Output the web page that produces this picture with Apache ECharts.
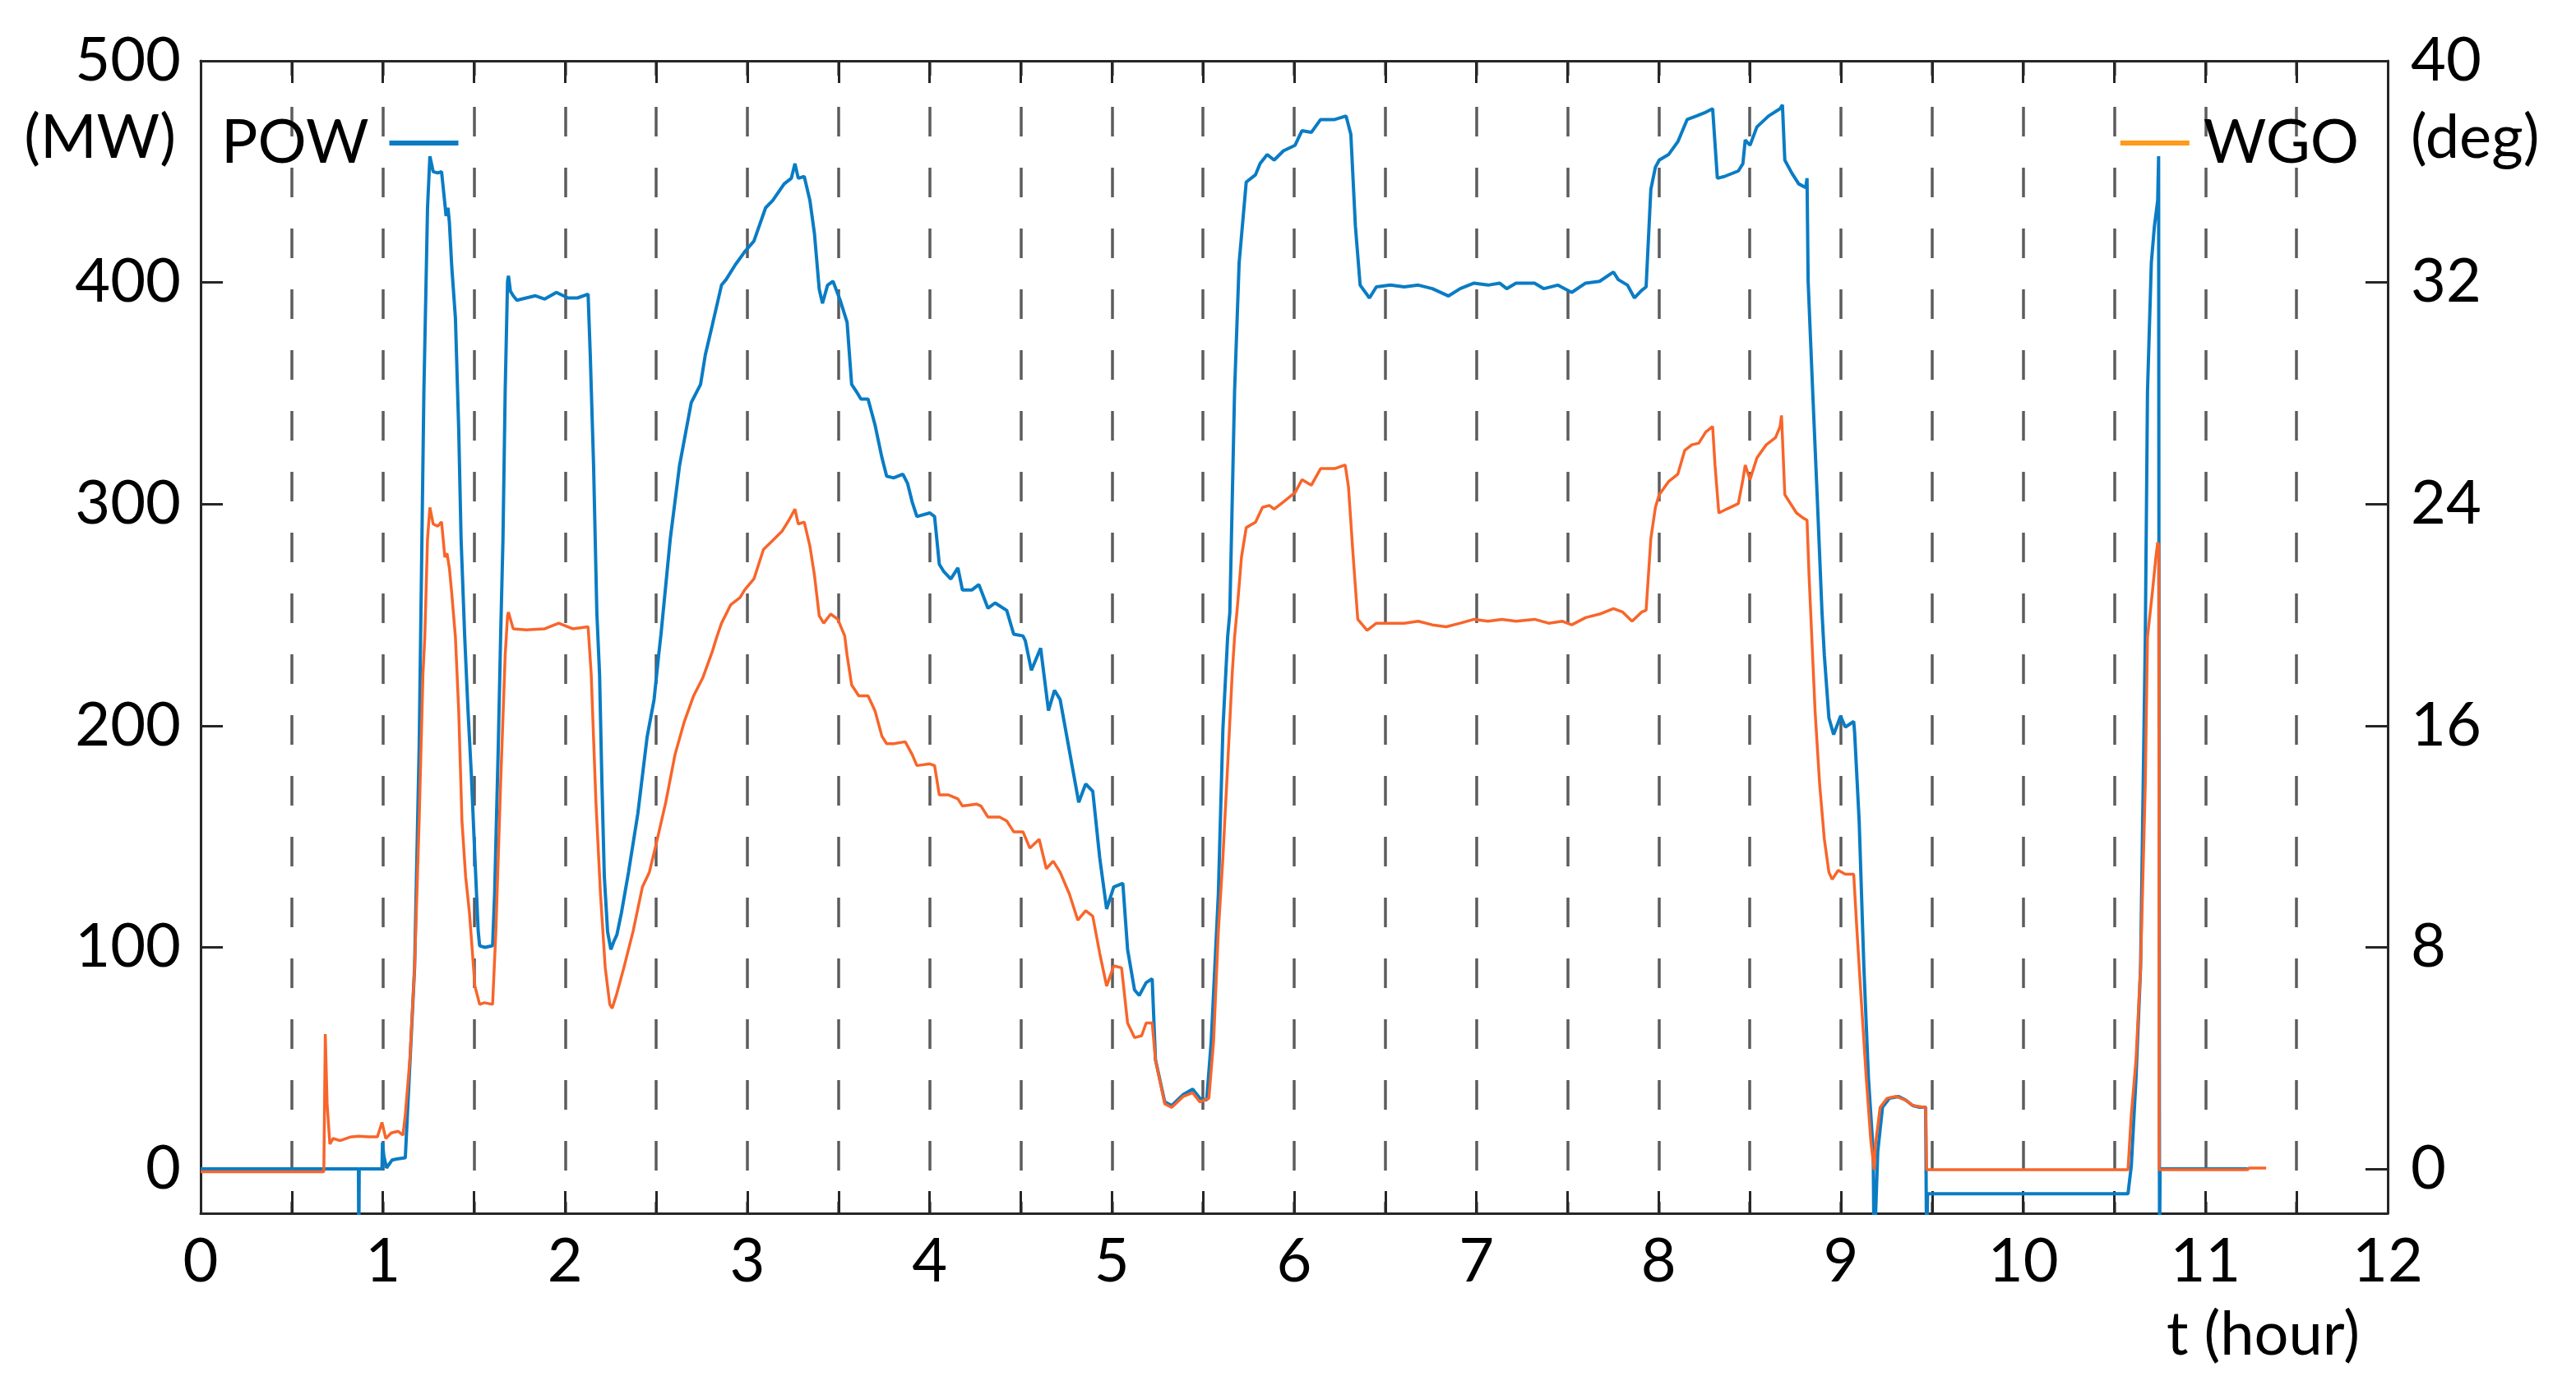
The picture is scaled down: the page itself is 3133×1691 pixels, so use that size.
<!DOCTYPE html>
<html>
<head>
<meta charset="utf-8">
<script src="https://cdn.jsdelivr.net/npm/echarts@6/dist/echarts.min.js"></script>
<style>
	html, body { margin: 0; padding: 0; background: #fff; }
	#chart { width: 3133px; height: 1691px; }
</style>
</head>
<body>
<div id="chart"></div>
<script>
	// POW (MW, left axis)
	const powHours = [
		0, 0.866, 0.868, 0.870, 0.995, 0.998, 1.005, 1.02, 1.05, 1.075, 1.123, 1.174, 1.199, 1.225, 1.245, 1.258,
		1.276, 1.301, 1.322, 1.332, 1.347, 1.357, 1.365, 1.378, 1.398, 1.416, 1.429, 1.449, 1.467, 1.485, 1.505,
		1.523, 1.531, 1.56, 1.602, 1.613, 1.633, 1.646, 1.659, 1.671, 1.684, 1.689, 1.70, 1.715, 1.735, 1.786,
		1.837, 1.888, 1.952, 2.016, 2.067, 2.126, 2.138, 2.156, 2.174, 2.189, 2.202, 2.215, 2.233, 2.251, 2.266,
		2.284, 2.309, 2.348, 2.399, 2.45, 2.488, 2.513, 2.526, 2.577, 2.628, 2.692, 2.743, 2.769, 2.807, 2.858,
		2.883, 2.934, 2.985, 3.036, 3.10, 3.139, 3.202, 3.241, 3.261, 3.279, 3.312, 3.343, 3.368, 3.394, 3.412,
		3.44, 3.47, 3.509, 3.547, 3.572, 3.598, 3.623, 3.662, 3.70, 3.738, 3.764, 3.802, 3.853, 3.879, 3.904,
		3.93, 4.001, 4.027, 4.053, 4.078, 4.116, 4.155, 4.18, 4.231, 4.27, 4.32, 4.359, 4.423, 4.461, 4.512,
		4.525, 4.558, 4.609, 4.652, 4.685, 4.716, 4.767, 4.818, 4.856, 4.895, 4.933, 4.971, 5.01, 5.06, 5.086,
		5.124, 5.15, 5.188, 5.221, 5.239, 5.29, 5.328, 5.392, 5.443, 5.482, 5.52, 5.545, 5.584, 5.609, 5.635,
		5.647, 5.673, 5.698, 5.737, 5.788, 5.813, 5.852, 5.89, 5.941, 6.005, 6.043, 6.094, 6.145, 6.222, 6.285,
		6.311, 6.336, 6.362, 6.413, 6.451, 6.528, 6.604, 6.681, 6.758, 6.847, 6.911, 6.987, 7.064, 7.127, 7.166,
		7.217, 7.319, 7.37, 7.446, 7.523, 7.599, 7.676, 7.752, 7.778, 7.829, 7.867, 7.906, 7.931, 7.957, 7.982,
		8.003, 8.054, 8.105, 8.156, 8.207, 8.258, 8.296, 8.322, 8.36, 8.437, 8.462, 8.475, 8.501, 8.539, 8.603,
		8.666, 8.679, 8.692, 8.73, 8.768, 8.807, 8.814, 8.82, 8.845, 8.871, 8.896, 8.909, 8.934, 8.96, 8.998,
		9.024, 9.07, 9.075, 9.1, 9.126, 9.151, 9.177, 9.182, 9.19, 9.202, 9.228, 9.266, 9.317, 9.355, 9.394,
		9.432, 9.465, 9.47, 9.475, 10.575, 10.593, 10.619, 10.644, 10.67, 10.682, 10.703, 10.72, 10.738, 10.743,
		10.748, 10.751, 11.231
	]
	const powMW = [
		0, 0, -40, 0, 0, 12, 6, 0.5, 4, 4.5, 5, 90.8, 190, 350.7, 433.7, 456.9,
		450, 449.4, 450, 442, 430, 433.7, 427, 407, 384, 334, 284.5, 240, 207, 178.6, 140.5,
		107.3, 100.7, 100, 100.7, 124, 190, 240, 284.4, 350.8, 400.5, 403, 396, 394, 392, 393,
		394, 392.5, 395.5, 393, 393, 394.7, 367, 317.6, 251, 223, 173.7, 132, 107, 99, 102.4,
		105.7, 115.6, 134, 160.4, 195, 211.8, 231.7, 241.3, 284.4, 317.6, 345.8, 354, 367.3, 380.6, 398.8,
		401.3, 408, 413.8, 418.7, 433.7, 437, 444.5, 447, 453.6, 447, 447.8, 437, 422, 397, 390.6,
		398.8, 400.5, 392, 382, 354, 350.8, 347.4, 347.4, 335.8, 321, 312.6, 311.8, 313.5, 309.3, 301,
		294.4, 296, 294.4, 272.8, 269.5, 266.2, 271.2, 261.2, 261.2, 263.7, 253, 255.4, 252, 241.3, 240.5,
		238.3, 225, 235, 206.8, 216, 211.8, 188.6, 165.4, 173.7, 170.4, 140.5, 117.3, 127.2, 128.9, 99,
		80.8, 78.3, 84.1, 85.8, 49.3, 30.2, 28.6, 33.6, 36, 31.9, 31.1, 57.6, 124, 198.5, 240,
		251, 350.8, 408.8, 445.3, 448.6, 453.6, 457.7, 455.2, 459.4, 461.9, 468.5, 467.7, 473.5, 473.5, 475.1,
		466.8, 425.4, 398.8, 393, 398, 398.8, 398, 398.8, 397.2, 393.9, 397.2, 399.7, 398.8, 399.7, 397.2,
		399.7, 399.7, 397.2, 398.8, 395.5, 399.7, 400.5, 404.7, 401.3, 398.8, 393, 396.4, 398, 442, 452,
		455.2, 457.7, 463.5, 473.5, 475.1, 476.8, 478.4, 447, 447.8, 450.3, 453.6, 464.3, 461.9, 470.2, 475.1,
		478.4, 480.1, 455.2, 449.4, 444.5, 442.8, 447, 400.5, 350.8, 301, 251.3, 231.7, 203.5, 196, 204.3,
		199.4, 201.9, 197, 157, 90.8, 41, 7.8, -40, -40, 7.8, 27.8, 31.9, 32.7, 31.1, 28.6,
		27.8, 27.8, -40, -11.2, -11.2, 1.2, 41, 90.8, 240, 350.8, 408.8, 425.4, 437, 457,
		-40, 0, 0
	]

	// WGO (deg, right axis)
	const wgoHours = [
		0, 0.676, 0.684, 0.694, 0.703, 0.709, 0.727, 0.765, 0.82, 0.868, 0.919, 0.97, 0.995, 1.016, 1.046,
		1.084, 1.11, 1.123, 1.148, 1.174, 1.199, 1.22, 1.23, 1.245, 1.258, 1.276, 1.301, 1.322, 1.34, 1.352,
		1.365, 1.378, 1.398, 1.416, 1.434, 1.454, 1.475, 1.505, 1.531, 1.557, 1.602, 1.62, 1.646, 1.671, 1.684,
		1.689, 1.715, 1.786, 1.888, 1.965, 2.041, 2.126, 2.143, 2.169, 2.194, 2.22, 2.245, 2.258, 2.284, 2.322,
		2.373, 2.424, 2.462, 2.501, 2.552, 2.603, 2.654, 2.705, 2.756, 2.807, 2.832, 2.858, 2.909, 2.96, 2.985,
		3.036, 3.088, 3.139, 3.19, 3.228, 3.261, 3.279, 3.312, 3.343, 3.368, 3.394, 3.419, 3.457, 3.496, 3.534,
		3.547, 3.572, 3.611, 3.662, 3.7, 3.738, 3.764, 3.802, 3.866, 3.904, 3.93, 4.001, 4.027, 4.053, 4.104,
		4.155, 4.18, 4.257, 4.282, 4.32, 4.384, 4.423, 4.461, 4.512, 4.55, 4.601, 4.64, 4.678, 4.716, 4.767,
		4.813, 4.856, 4.895, 4.933, 4.971, 5.01, 5.053, 5.086, 5.124, 5.163, 5.188, 5.221, 5.239, 5.29, 5.328,
		5.392, 5.443, 5.482, 5.532, 5.558, 5.584, 5.609, 5.635, 5.66, 5.673, 5.686, 5.711, 5.737, 5.788, 5.826,
		5.864, 5.89, 5.941, 6.005, 6.043, 6.094, 6.145, 6.222, 6.28, 6.298, 6.324, 6.349, 6.4, 6.451, 6.528,
		6.604, 6.681, 6.758, 6.834, 6.911, 6.987, 7.064, 7.14, 7.217, 7.319, 7.396, 7.472, 7.523, 7.599, 7.676,
		7.752, 7.803, 7.854, 7.906, 7.931, 7.957, 7.982, 8.003, 8.054, 8.105, 8.143, 8.182, 8.22, 8.258, 8.296,
		8.309, 8.33, 8.373, 8.437, 8.462, 8.475, 8.501, 8.539, 8.59, 8.641, 8.666, 8.674, 8.692, 8.717, 8.756,
		8.794, 8.814, 8.825, 8.84, 8.858, 8.883, 8.909, 8.934, 8.952, 8.985, 9.024, 9.07, 9.088, 9.113, 9.139,
		9.164, 9.182, 9.19, 9.215, 9.253, 9.304, 9.355, 9.394, 9.465, 9.47, 10.575, 10.593, 10.619, 10.644, 10.67,
		10.682, 10.708, 10.728, 10.738, 10.744, 10.746, 11.231, 11.238, 11.333
	]
	const wgoDeg = [
		-0.1, -0.1, 4.87, 2.35, 2.3, 0.9, 1.1, 1.02, 1.15, 1.18, 1.16, 1.16, 1.68, 1.1, 1.3,
		1.36, 1.22, 1.95, 3.94, 7.26, 12.56, 17.87, 19.2, 22.75, 23.88, 23.28, 23.2, 23.36, 22.08, 22.22,
		21.68, 20.77, 19.2, 16.54, 12.56, 10.56, 9.25, 6.6, 5.94, 6.0, 5.94, 8.58, 13.9, 18.54, 19.97,
		20.1, 19.5, 19.46, 19.5, 19.7, 19.5, 19.57, 17.87, 13.23, 9.92, 7.26, 5.94, 5.8, 6.34, 7.26,
		8.58, 10.18, 10.71, 11.77, 13.23, 14.96, 16.15, 17.08, 17.74, 18.67, 19.2, 19.7, 20.37, 20.63, 20.9,
		21.3, 22.36, 22.69, 23.02, 23.42, 23.82, 23.28, 23.35, 22.48, 21.43, 19.97, 19.7, 20.03, 19.84, 19.24,
		18.54, 17.47, 17.08, 17.08, 16.54, 15.62, 15.35, 15.35, 15.42, 14.96, 14.56, 14.62, 14.56, 13.5, 13.5,
		13.36, 13.1, 13.17, 13.1, 12.7, 12.7, 12.56, 12.17, 12.17, 11.58, 11.9, 10.84, 11.11, 10.71, 9.92,
		8.98, 9.32, 9.12, 7.79, 6.6, 7.33, 7.26, 5.27, 4.74, 4.81, 5.27, 5.27, 3.94, 2.35, 2.22,
		2.62, 2.75, 2.42, 2.55, 4.61, 8.58, 11.24, 14.56, 17.87, 19.2, 20.1, 22.09, 23.15, 23.35, 23.88,
		23.95, 23.82, 24.08, 24.42, 24.88, 24.68, 25.28, 25.28, 25.41, 24.62, 22.09, 19.84, 19.44, 19.7, 19.7,
		19.7, 19.77, 19.64, 19.57, 19.7, 19.84, 19.77, 19.84, 19.77, 19.84, 19.7, 19.77, 19.64, 19.9, 20.03,
		20.23, 20.1, 19.77, 20.1, 20.17, 22.75, 23.88, 24.34, 24.81, 25.08, 25.94, 26.14, 26.2, 26.6, 26.8,
		25.41, 23.68, 23.82, 24.02, 24.88, 25.41, 24.88, 25.67, 26.14, 26.4, 26.8, 27.2, 24.34, 24.08, 23.68,
		23.49, 23.42, 21.43, 19.2, 16.54, 13.9, 11.9, 10.71, 10.45, 10.78, 10.64, 10.64, 8.58, 5.94, 3.28,
		1.02, -0.03, 0.9, 2.22, 2.55, 2.62, 2.48, 2.29, 2.22, -0.03, -0.03, 1.95, 3.94, 7.26, 13.9,
		19.2, 20.77, 22.08, 22.62, 22.5, -0.03, -0.03, 0.03, 0.03
	]

	const mwTicks = [0, 100, 200, 300, 400, 500]
	const degTicks = [0, 8, 16, 24, 32, 40]

	const FONT = 'Lato'
	const BLUE = '#0a7cc4'
	const ORANGE = '#f8652a'
	const ORANGE_KEY = '#ff9a1a'
	const AXIS = '#262626'

	const axisLine = { show: true, onZero: false, lineStyle: { color: AXIS, width: 3 } }
	const axisTick = { show: true, inside: true, length: 27, lineStyle: { color: AXIS, width: 3 } }
	const labelStyle = { fontSize: 74, fontFamily: FONT, color: '#000' }

	const chart = echarts.init(document.getElementById('chart'), null, { renderer: 'canvas' })

	chart.setOption({
		animation: false,
		backgroundColor: '#fff',
		grid: { left: 244, right: 229, top: 74, bottom: 215, containLabel: false },
		legend: [
			{
				data: ['POW'],
				left: 264,
				top: 132,
				align: 'right',
				icon: 'rect',
				itemWidth: 84,
				itemHeight: 6,
				selectedMode: false,
				textStyle: Object.assign({ padding: [0, 20, 0, 0] }, labelStyle)
			},
			{
				data: [{ name: 'WGO', itemStyle: { color: ORANGE_KEY } }],
				right: 259,
				top: 132,
				align: 'left',
				icon: 'rect',
				itemWidth: 84,
				itemHeight: 6,
				selectedMode: false,
				textStyle: Object.assign({ padding: [0, 0, 0, 12] }, labelStyle)
			}
		],
		xAxis: [
			{
				type: 'value',
				position: 'bottom',
				min: 0,
				max: 12,
				interval: 0.5,
				axisLine: axisLine,
				axisTick: axisTick,
				axisLabel: Object.assign({
					margin: 22,
					showMinLabel: true,
					showMaxLabel: true,
					formatter: (v) => Number.isInteger(v) ? String(v) : ''
				}, labelStyle),
				splitLine: {
					show: true,
					showMinLine: false,
					showMaxLine: false,
					lineStyle: { color: '#5c5c5c', width: 3.5, type: [36, 38], dashOffset: 18 }
				}
			},
			{
				type: 'value',
				position: 'top',
				min: 0,
				max: 12,
				interval: 0.5,
				axisLine: axisLine,
				axisTick: axisTick,
				axisLabel: { show: false },
				splitLine: { show: false }
			}
		],
		yAxis: [
			{
				type: 'value',
				position: 'left',
				min: -20,
				max: 500,
				axisLine: axisLine,
				axisTick: Object.assign({ customValues: mwTicks }, axisTick),
				axisLabel: Object.assign({ customValues: mwTicks, margin: 24 }, labelStyle),
				splitLine: { show: false }
			},
			{
				type: 'value',
				position: 'right',
				min: -1.6,
				max: 40,
				axisLine: axisLine,
				axisTick: Object.assign({ customValues: degTicks }, axisTick),
				axisLabel: Object.assign({ customValues: degTicks, margin: 28 }, labelStyle),
				splitLine: { show: false }
			}
		],
		graphic: [
			{ type: 'text', x: 214, y: 168, style: { text: '(MW)', align: 'right', verticalAlign: 'middle', textAlign: 'right', textVerticalAlign: 'middle', fontSize: 74, fontFamily: FONT, fill: '#000' } },
			{ type: 'text', x: 2932, y: 168, style: { text: '(deg)', align: 'left', verticalAlign: 'middle', textAlign: 'left', textVerticalAlign: 'middle', fontSize: 74, fontFamily: FONT, fill: '#000' } },
			{ type: 'text', x: 2870, y: 1624, style: { text: 't (hour)', align: 'right', verticalAlign: 'middle', textAlign: 'right', textVerticalAlign: 'middle', fontSize: 74, fontFamily: FONT, fill: '#000' } }
		],
		series: [
			{
				name: 'POW',
				type: 'line',
				xAxisIndex: 0,
				yAxisIndex: 0,
				showSymbol: false,
				symbol: 'none',
				clip: true,
				z: 3,
				lineStyle: { color: BLUE, width: 4 },
				itemStyle: { color: BLUE },
				data: powHours.map((t, i) => [t, powMW[i]])
			},
			{
				name: 'WGO',
				type: 'line',
				xAxisIndex: 0,
				yAxisIndex: 1,
				showSymbol: false,
				symbol: 'none',
				clip: true,
				z: 4,
				lineStyle: { color: ORANGE, width: 3.5 },
				itemStyle: { color: ORANGE },
				data: wgoHours.map((t, i) => [t, wgoDeg[i]])
			}
		]
	})

	window.addEventListener('resize', () => {
		chart.resize()
	})
</script>
</body>
</html>
